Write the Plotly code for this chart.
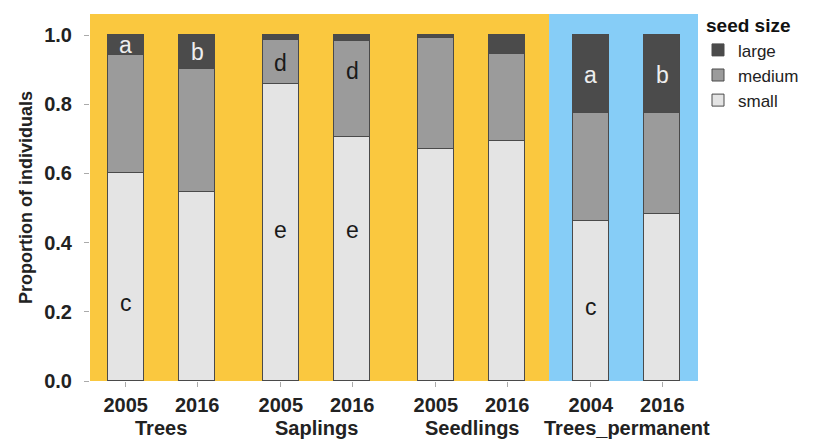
import plotly.graph_objects as go

# ---- data ----
years = ["2005", "2016", "2005", "2016", "2005", "2016", "2004", "2016"]
groups = ["Trees", "Saplings", "Seedlings", "Trees_permanent"]
xpos = [0, 1, 2.17, 3.17, 4.34, 5.34, 6.51, 7.51]
small = [0.602, 0.546, 0.858, 0.706, 0.671, 0.695, 0.463, 0.482]
medium = [0.340, 0.357, 0.129, 0.277, 0.320, 0.251, 0.311, 0.292]
large = [round(1 - s - m, 3) for s, m in zip(small, medium)]

# significance letters
letter_bar = [0, 0, 1, 2, 2, 3, 3, 6, 6, 7]
letter_y = [0.97, 0.225, 0.95, 0.92, 0.437, 0.895, 0.437, 0.885, 0.215, 0.885]
letter_txt = ["a", "c", "b", "d", "e", "d", "e", "a", "c", "b"]
letter_light = [True, False, True, False, False, False, False, True, False, True]

col_small = "#e4e4e4"
col_medium = "#9b9b9b"
col_large = "#4b4b4b"
line = dict(color="#4a4a4a", width=1)

FONT = "Liberation Sans, Arial, sans-serif"

fig = go.Figure()
for name, vals, col in [("small", small, col_small), ("medium", medium, col_medium), ("large", large, col_large)]:
    fig.add_trace(go.Bar(x=xpos, y=vals, name=name, width=0.5,
                         marker=dict(color=col, line=line)))

# background panels
split = (xpos[5] + xpos[6]) / 2
fig.add_shape(type="rect", xref="x", yref="paper", x0=-0.5, x1=split,
              y0=0, y1=1, fillcolor="#FAC83F", line=dict(width=0), layer="below")
fig.add_shape(type="rect", xref="x", yref="paper", x0=split, x1=xpos[7] + 0.5,
              y0=0, y1=1, fillcolor="#86CDF7", line=dict(width=0), layer="below")

for b, y, t, light in zip(letter_bar, letter_y, letter_txt, letter_light):
    fig.add_annotation(x=xpos[b], y=y, text=t, showarrow=False, xref="x", yref="y",
                       font=dict(family=FONT, size=23, color="#eeeeee" if light else "#1a1a1a"))

# group labels
for i, g in enumerate(groups):
    fig.add_annotation(x=(xpos[2 * i] + xpos[2 * i + 1]) / 2, y=0, yref="paper", xref="x",
                       yanchor="middle", yshift=-47, text=g, showarrow=False,
                       font=dict(family=FONT, size=20, color="#222222", weight="bold"))

# legend title
fig.add_annotation(x=1.0, y=1.0, xref="paper", yref="paper", xanchor="left", yanchor="middle",
                   xshift=6, yshift=-11, text="seed size", showarrow=False,
                   font=dict(family=FONT, size=19, color="#111111", weight="bold"))

fig.update_layout(
    width=816, height=443,
    margin=dict(l=90, r=116, t=14, b=62),
    barmode="stack",
    bargap=0,
    plot_bgcolor="white",
    paper_bgcolor="white",
    font=dict(family=FONT, color="#222222"),
    legend=dict(traceorder="reversed", x=1.0, xanchor="left", y=0.95, yanchor="top",
                font=dict(size=17, family=FONT, color="#222222"),
                itemwidth=30, tracegroupgap=0, bgcolor="rgba(0,0,0,0)"),
    xaxis=dict(range=[-0.5, xpos[7] + 0.5], tickvals=xpos, ticktext=years,
               showgrid=False, zeroline=False, ticks="outside", ticklen=5, tickcolor="#aaaaaa",
               tickfont=dict(size=20, family=FONT, color="#222222", weight="bold"),
               ticklabelstandoff=1, showline=False),
    yaxis=dict(range=[0, 1.061], tickvals=[0, 0.2, 0.4, 0.6, 0.8, 1.0], tickformat=".1f",
               showgrid=False, zeroline=False, ticks="outside", ticklen=5, tickcolor="#aaaaaa",
               tickfont=dict(size=20, family=FONT, color="#222222", weight="bold"),
               ticklabelstandoff=8,
               title=dict(text="Proportion of individuals", standoff=6,
                          font=dict(size=18, family=FONT, color="#222222", weight="bold")),
               showline=False),
)

fig.write_html("out.html")
